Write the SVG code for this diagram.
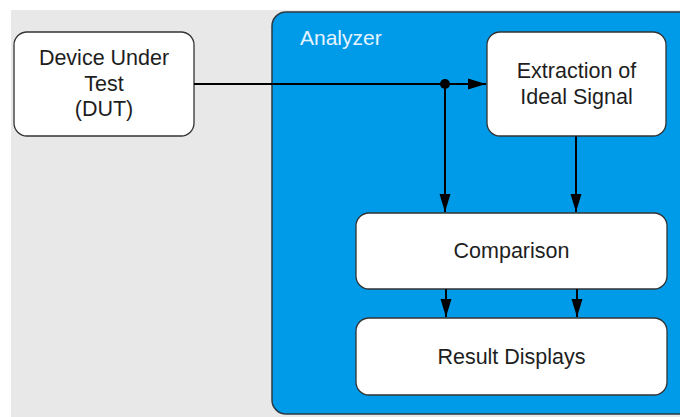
<svg xmlns="http://www.w3.org/2000/svg" width="680" height="417" viewBox="0 0 680 417">
<defs>
<style>
.node{fill:#ffffff;stroke:#333333;stroke-width:1.3}
.lbl{font-family:"Liberation Sans",Arial,sans-serif;font-size:21.5px;fill:#1e1e1e;text-anchor:middle}
.edge{stroke:#000000;stroke-width:2;fill:none}
</style>
<marker id="ah" viewBox="0 0 18 12" refX="18" refY="6" markerWidth="18" markerHeight="12" markerUnits="userSpaceOnUse" orient="auto">
<path d="M0,0.5 L18,6 L0,11.5 Z" fill="#000000"/>
</marker>
</defs>
<rect x="0" y="0" width="680" height="417" fill="#ffffff"/>
<rect x="11" y="10" width="680" height="420" fill="#e8e8e8"/>
<g id="analyzer">
<rect x="272" y="12" width="430" height="402" rx="14" fill="#009be8" stroke="#2a3a44" stroke-width="1.5"/>
<text x="300" y="45" style="font-family:'Liberation Sans',Arial,sans-serif;font-size:21px;fill:#e6f4ff">Analyzer</text>
</g>
<g id="dut">
<rect class="node" x="14" y="32" width="180" height="104" rx="13"/>
<text class="lbl" x="104" y="65">Device Under</text>
<text class="lbl" x="104" y="91">Test</text>
<text class="lbl" x="104" y="116">(DUT)</text>
</g>
<g id="extraction">
<rect class="node" x="487" y="32" width="179" height="104" rx="13"/>
<text class="lbl" x="576.5" y="78">Extraction of</text>
<text class="lbl" x="576.5" y="104">Ideal Signal</text>
</g>
<g id="comparison">
<rect class="node" x="356" y="213" width="311" height="76" rx="13"/>
<text class="lbl" x="511.5" y="258">Comparison</text>
</g>
<g id="results">
<rect class="node" x="356" y="318" width="311" height="77" rx="13"/>
<text class="lbl" x="511.5" y="364">Result Displays</text>
</g>
<g id="connectors">
<line class="edge" x1="194" y1="84" x2="486" y2="84" marker-end="url(#ah)"/>
<circle cx="445" cy="84" r="5" fill="#000000"/>
<line class="edge" x1="445" y1="84" x2="445" y2="212" marker-end="url(#ah)"/>
<line class="edge" x1="576" y1="136" x2="576" y2="212" marker-end="url(#ah)"/>
<line class="edge" x1="446" y1="289" x2="446" y2="317" marker-end="url(#ah)"/>
<line class="edge" x1="577" y1="289" x2="577" y2="317" marker-end="url(#ah)"/>
</g>
</svg>
